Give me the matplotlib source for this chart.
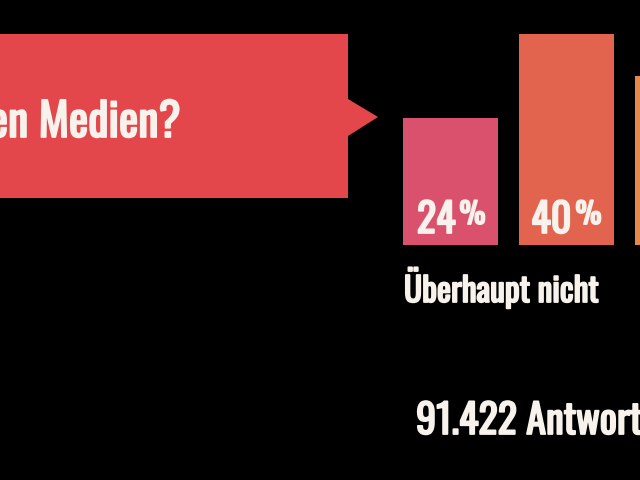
import matplotlib.pyplot as plt
from matplotlib.patches import Polygon
import matplotlib.patheffects as pe

# ======= DATEN =======
kategorien = ['Überhaupt nicht', '', '']
werte = [24, 40, 32]
balken_farben = ['#d9516d', '#e2644f', '#e8874a']
frage = 'Vertrauen Sie den Medien?'
antworten = '91.422 Antworten'

# schmale Schrift (mit Ausweichschriften), etwas fetter gemacht
weiss = '#f8f2ec'
fett = [pe.withStroke(linewidth=1.3, foreground=weiss)]
schrift = dict(family=['Oswald', 'Sofia Sans Extra Condensed', 'DejaVu Sans'],
               weight='bold', color=weiss, path_effects=fett)

fig = plt.figure(figsize=(6.4, 4.8), dpi=100, facecolor='black')

# ======= HINTERGRUND (Pixelkoordinaten) =======
bg = fig.add_axes([0, 0, 1, 1])
bg.set_xlim(0, 640)
bg.set_ylim(480, 0)
bg.axis('off')

kasten = Polygon([(-10, 34), (348, 34), (348, 99), (378, 117), (348, 136),
                  (348, 198), (-10, 198)], closed=True, fc='#e4474b', ec='none')
bg.add_patch(kasten)
bg.text(181, 137, frage, ha='right', va='baseline', fontsize=33, **schrift)
bg.text(416, 434, antworten, ha='left', va='baseline', fontsize=29, **schrift)

# ======= BALKEN =======
px_pro_prozent = 5.28
abstand = 116
breite = 95 / abstand
x_mitte0 = 450.5

ax = fig.add_axes([0, 0, 1, 1])
ax.set_facecolor('none')
ax.set_xlim(-x_mitte0 / abstand, (640 - x_mitte0) / abstand)
ax.set_ylim(-235 / px_pro_prozent, 245 / px_pro_prozent)
ax.axis('off')

ax.bar(range(len(werte)), werte, width=breite, color=balken_farben)

for i, v in enumerate(werte):
    ax.annotate(str(v), xy=(i, 0), xytext=(5, 12), textcoords='offset pixels',
                ha='right', va='baseline', fontsize=29, **schrift)
    ax.annotate('%', xy=(i, 0), xytext=(9, 45), textcoords='offset pixels',
                ha='left', va='top', fontsize=21, **schrift)
    if kategorien[i]:
        ax.annotate(kategorien[i], xy=(i - breite / 2, 0), xytext=(1, -57),
                    textcoords='offset pixels', ha='left', va='baseline',
                    fontsize=24, **schrift)

fig.savefig('out.png', dpi=100, facecolor='black')
